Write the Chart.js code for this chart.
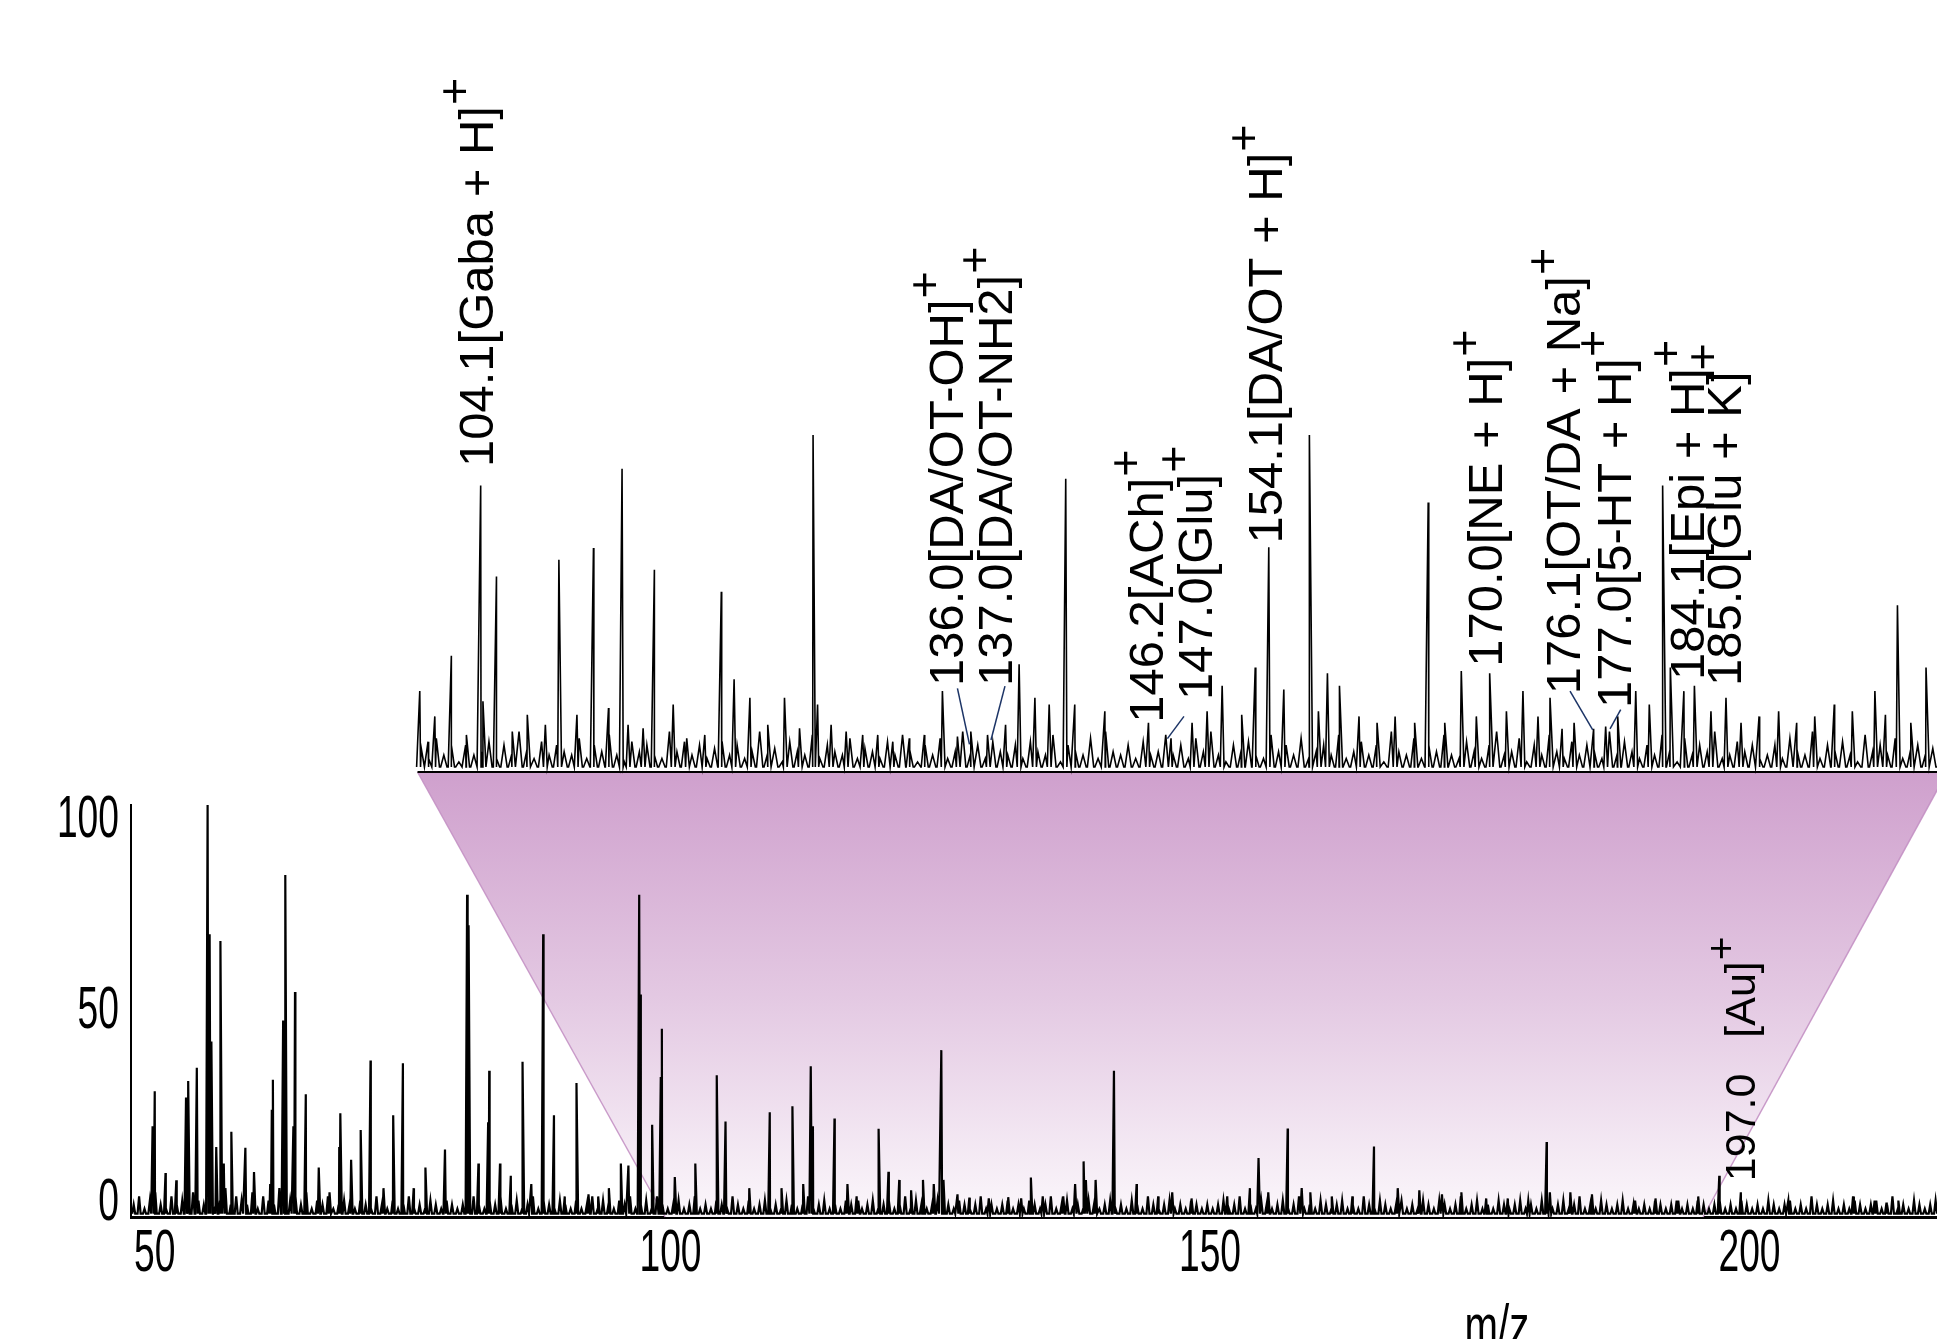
<!DOCTYPE html>
<html><head><meta charset="utf-8">
<script src="https://cdn.jsdelivr.net/npm/chart.js@4.4.1/dist/chart.umd.min.js"></script>
<style>html,body{margin:0;padding:0;background:#fff;overflow:hidden}#wrap{position:relative;width:1937px;height:1339px}</style>
</head><body><div id="wrap"><canvas id="c" width="1937" height="1339"></canvas></div>
<script>
// ---- main spectrum (m/z, relative intensity %) ----
const mainPeaks = [
[52.0,22],[52.2,30.5],[53.2,10.7],[54.2,8.9],[55.1,29],[55.3,33],[56.1,36.2],
[57.1,100],[57.3,68.6],[57.45,42.6],[57.9,17],[58.3,67],[58.6,13],[59.3,20.7],
[60.6,16.8],[61.4,10.9],[62.9,8],[63.05,26],[63.15,33.3],[64.1,47.7],[64.3,83],
[65.05,22],[65.2,54.6],[66.2,29.8],[67.4,12],[68.4,6],[69.3,17],[69.4,25.2],
[70.4,13.9],[71.3,21.1],[72.2,38],[73.4,7],[74.3,24.7],[75.2,37.3],[76.2,7],
[77.3,12],[79.1,16.4],[81.15,78.2],[81.3,70.8],[82.2,13],[83.1,23],[83.2,35.5],
[84.2,13],[85.2,10],[86.3,37.7],[87.1,8],[88.2,68.6],[89.2,24.7],[90.2,5],
[91.3,32.5],[92.4,5.5],[93.3,5],[94.3,7],[95.4,13],[96.1,12.5],[97.1,78.2],
[97.25,54],[98.3,22.4],[99.1,34],[99.2,45.7],[100.4,9.7],[102.3,13],
[104.3,34.4],[105.1,23.2],[107.3,7],[109.2,25.4],[110.3,7],[111.3,26.9],
[112.3,8],[113.0,36.6],[113.2,22],[115.2,23.9],[116.4,8],[117.4,4],[119.3,21.4],
[120.2,11],[121.2,9],[122.3,6.5],[123.4,9],[124.4,8],[125.1,40.5],[125.3,9],
[126.6,5.5],[127.7,4.7],[129.5,4.5],[131.3,4.8],[132.5,4.5],[133.4,9.6],
[134.5,5],[136.4,5],[137.5,8],[138.3,13.5],[138.5,9],[139.4,9],[141.1,35.5],
[143.2,8],[145.2,5],[146.5,6],[148.3,4.5],[151.6,5],[153.7,7],[154.5,14.3],
[155.4,6],[157.2,21.5],[158.5,7],[159.3,6],[161.3,5],[163.2,5],[165.2,17.1],
[167.4,7],[169.4,6.5],[171.5,5.5],[173.3,6],[175.6,4.5],[177.6,4.5],[179.5,4],
[181.2,18.2],[181.5,6],[183.4,6],[185.4,5.5],[189.4,4],[191.3,4.5],[193.4,4],
[195.2,4],[197.2,10],[199.2,6],[203.6,4],[209.6,5],[211.6,4],[212.7,3.5],[213.8,4]
];
// baseline "grass" of the main spectrum, read every half m/z from 50.25
const mainNoiseStart = 50.25, mainNoiseStep = 0.5;
const mainNoise = [
3,5,2,4,6,3,2,5,3,4,2,6,4,3,5,2,4,7,3,5,
4,3,6,2,5,4,3,7,2,4,5,3,6,2,4,3,5,2,3,4,
3,2,4,3,2,5,3,2,4,2,3,5,2,3,2,4,3,2,4,3,
2,3,2,5,3,2,4,3,5,2,3,4,2,3,5,2,4,3,2,4,
3,2,4,2,3,5,2,4,3,2,4,3,5,2,3,4,2,5,3,2,
3,4,2,3,5,2,3,2,4,3,2,5,3,2,4,2,3,4,2,3,
2,4,3,2,3,5,2,3,4,2,3,2,4,3,5,2,3,4,2,3,
4,2,3,5,2,4,3,2,3,4,2,3,2,4,3,2,3,5,2,3,
2,3,4,2,3,2,4,3,2,3,5,2,3,4,2,3,2,4,3,2,
3,4,2,3,2,4,3,2,5,3,2,3,4,2,3,2,4,3,2,3,
2,3,4,2,3,5,2,3,2,4,3,2,3,4,2,3,5,2,3,2,
4,3,2,3,4,2,3,2,5,3,2,4,3,2,3,4,2,3,2,4,
3,2,4,3,2,3,5,2,3,4,2,3,2,4,3,2,3,4,2,3,
2,4,3,2,3,4,2,3,5,2,3,2,4,3,2,3,4,2,3,2,
3,2,4,3,2,3,4,2,3,2,5,3,2,3,4,2,3,2,4,3,
2,3,2,4,3,2,3,4,2,3,2,5,3,2,3,4,2,3,2,4,
3,2,3,4,2,3,5,2,3,2,4,3,2,3,4,2
];
// ---- zoomed inset spectrum (inset m/z units, relative intensity %) ----
const insetPeaks = [
[100.15,24],[100.7,9],[101.15,16.5],[102.25,34.5],[103.2,8],[104.2,85],[104.35,21],
[105.25,58],[106.3,12],[107.3,17],[108.5,14],[109.4,63],[110.6,17],[111.7,66.5],
[112.7,19],[113.6,90],[114.0,14],[115.0,13],[115.75,60],[117.0,20],[117.9,10],
[119.1,11],[120.2,53.5],[121.05,27.5],[122.1,22],[123.3,14],[124.4,22],[125.4,13],
[126.3,100],[126.6,20],[127.5,14],[128.5,12],[129.6,11],[130.6,11],[131.6,9],
[132.7,10],[133.7,11],[134.9,24],[135.9,10.5],[136.8,12],[137.9,11],[139.1,14],
[140.0,32],[141.05,22],[142.0,20],[143.1,87],[143.7,20],[145.7,18],[148.6,14.6],
[150.1,10],[151.5,14.6],[152.5,18],[153.5,25.6],[154.8,17],[155.7,31],[156.6,66.7],
[157.6,24.5],[159.3,100],[159.9,18],[160.5,29.3],[161.3,25.6],[162.6,16.5],
[163.8,14.6],[165.0,16.5],[166.3,14.6],[167.2,80],[168.3,14.6],[169.4,30],
[170.4,16.5],[171.3,29.3],[172.4,18],[173.5,24],[174.5,16.5],[175.3,22],
[176.1,12.8],[176.9,14.6],[178.2,12.8],[179.0,13.5],[179.8,16.5],[181.0,24],
[181.9,20],[182.8,85],[183.3,31],[184.2,24],[184.9,25.6],[186.0,18],[187.0,22],
[188.0,14.6],[189.2,16.5],[190.5,18],[191.7,14.6],[192.9,16.5],[194.2,20],
[195.4,18],[196.9,24],[197.6,17],[198.4,49.5],[199.3,14.6],[200.3,31]
];
const insetNoiseStart = 100.25, insetNoiseStep = 0.5;
const insetNoise = [
7,4,10,5,8,3,11,5,6,9,4,8,5,12,6,4,9,5,8,6,
5,10,4,8,6,11,5,3,9,6,8,5,4,12,6,9,5,8,4,7,
9,5,8,4,6,12,5,7,3,9,6,5,11,4,8,6,5,10,4,7,
6,4,9,5,11,6,3,8,5,10,4,6,12,5,8,4,9,6,5,8,
4,9,6,5,11,3,8,6,5,10,4,12,6,5,8,4,9,5,6,11,
5,8,4,10,6,12,5,3,8,6,9,5,4,11,6,8,5,10,4,6,
8,5,11,4,6,9,5,8,3,12,6,5,10,4,8,6,11,5,4,9,
6,4,8,12,5,6,10,3,8,5,11,6,4,9,5,8,6,4,12,5,
9,6,4,8,5,11,6,3,10,5,8,6,12,4,5,9,6,8,4,5,
8,4,10,6,5,12,4,8,6,9,5,3,11,6,8,5,10,4,6,8,
5,7,4
];
const xTicks = [50, 100, 150, 200];
const yTicks = [0, 50, 100];
// peak annotations (inset units); leader = short connector line
const insetLabels = [
 {text:'104.1[Gaba + H]', mz:104.1, h:90.5},
 {text:'136.0[DA/OT-OH]', mz:135.38, h:25.5, leader:[[135.9,24.8],[136.7,8.2]]},
 {text:'137.0[DA/OT-NH2]', mz:138.66, h:25.5, leader:[[139.06,25.5],[138.13,9.5]]},
 {text:'146.2[ACh]', mz:148.7, h:14.6},
 {text:'147.0[Glu]', mz:151.9, h:21.4, leader:[[150.96,16.5],[149.86,9.9]]},
 {text:'154.1[DA/OT + H]', mz:156.59, h:67.8},
 {text:'170.0[NE + H]', mz:171.24, h:31.2},
 {text:'176.1[OT/DA + Na]', mz:176.41, h:23.1, leader:[[176.63,24.0],[178.14,12.5]]},
 {text:'177.0[5-HT + H]', mz:179.76, h:19.0, leader:[[180.0,18.5],[179.29,12.8]]},
 {text:'184.1[Epi + H]', mz:184.63, h:27.3},
 {text:'185.0[Glu + K]', mz:187.1, h:25.5}
];
const mainLabels = [ {text:'197.0   [Au]', mz:199.4, h:8.7} ];
const axisTitle = {text:'m/z', mz:176.6};
// zoom band: inset range mapped to main-spectrum range
const band = { insetFrom:100, insetTo:201.7, mainFrom:99.5, mainTo:195.7 };

function buildTrace(peaks, nStart, nStep, noise, halfW, floor) {
  const apex = peaks.map(p => ({x:p[0], y:p[1]}));
  noise.forEach((h, i) => apex.push({x: nStart + i * nStep, y: h}));
  apex.sort((a, b) => a.x - b.x);
  const pts = [];
  for (let i = 0; i < apex.length; i++) {
    const a = apex[i], b = apex[i + 1];
    if (i === 0) pts.push({x: a.x - halfW, y: floor});
    pts.push(a);
    if (!b) { pts.push({x: a.x + halfW, y: floor}); break; }
    if (b.x - a.x > 2 * halfW) { pts.push({x: a.x + halfW, y: floor}); pts.push({x: b.x - halfW, y: floor}); }
    else pts.push({x: (a.x + b.x) / 2, y: floor});
  }
  return pts;
}

const LBL = '"Liberation Sans", Arial, sans-serif';
const NARROW = { size: 60, squeeze: 0.62 };

function rotLabel(ctx, x, y, text, size) {
  ctx.save();
  ctx.translate(x, y); ctx.rotate(-Math.PI / 2);
  ctx.font = size + 'px ' + LBL;
  ctx.textAlign = 'left'; ctx.textBaseline = 'middle'; ctx.fillStyle = '#000';
  ctx.fillText(text, 0, 0);
  const w = ctx.measureText(text).width;
  ctx.font = (size * 0.95) + 'px ' + LBL;
  ctx.fillText('+', w + 1, -size * 0.45);
  ctx.restore();
}
function narrowText(ctx, text, x, y, align, squeeze) {
  ctx.save();
  ctx.translate(x, y); ctx.scale(squeeze, 1);
  ctx.font = NARROW.size + 'px ' + LBL;
  ctx.fillStyle = '#000'; ctx.textAlign = align; ctx.textBaseline = 'alphabetic';
  ctx.fillText(text, 0, 0);
  ctx.restore();
}
// condensed tick labels drawn at the library's own tick positions
function narrowDrawLabels() {
  const s = this, ctx = s.ctx;
  const capH = NARROW.size * 0.716;
  const mid = (s.top + s.bottom) / 2;
  s.ticks.forEach((t, i) => {
    const p = s.getPixelForValue(t.value);
    const lab = String(t.label);
    if (s.isHorizontal()) {
      const align = i === 0 ? 'left' : 'center';
      narrowText(ctx, lab, i === 0 ? p + 3 : p, s.top + 11 + capH, align, NARROW.squeeze);
    } else {
      const c = mid + (p - mid) * 0.93 - 4;
      narrowText(ctx, lab, s.right - 12, c + capH / 2, 'right', NARROW.squeeze);
    }
  });
}

const bandPlugin = {
  id: 'band',
  beforeDraw(chart) {
    chart.scales.x.drawLabels = narrowDrawLabels;
    chart.scales.y.drawLabels = narrowDrawLabels;
  },
  beforeDatasetsDraw(chart) {
    const {ctx, scales} = chart;
    const x = scales.x, y = scales.y, x2 = scales.x2, y2 = scales.y2;
    const tl = [x2.getPixelForValue(band.insetFrom), y2.getPixelForValue(0)];
    const tr = [x2.getPixelForValue(band.insetTo), y2.getPixelForValue(0)];
    const bl = [x.getPixelForValue(band.mainFrom), y.getPixelForValue(0)];
    const br = [x.getPixelForValue(band.mainTo), y.getPixelForValue(0)];
    ctx.save();
    const g = ctx.createLinearGradient(0, tl[1], 0, bl[1]);
    g.addColorStop(0, 'rgb(207,160,205)');
    g.addColorStop(0.5, 'rgb(227,200,226)');
    g.addColorStop(1, 'rgb(251,247,251)');
    ctx.beginPath();
    ctx.moveTo(tl[0], tl[1]); ctx.lineTo(tr[0], tr[1]); ctx.lineTo(br[0], br[1]); ctx.lineTo(bl[0], bl[1]); ctx.closePath();
    ctx.fillStyle = g; ctx.fill();
    ctx.strokeStyle = 'rgba(196,145,196,0.9)'; ctx.lineWidth = 1.5;
    ctx.beginPath(); ctx.moveTo(tl[0], tl[1]); ctx.lineTo(bl[0], bl[1]); ctx.stroke();
    ctx.beginPath(); ctx.moveTo(tr[0], tr[1]); ctx.lineTo(br[0], br[1]); ctx.stroke();
    ctx.restore();
  },
  afterDatasetsDraw(chart) {
    const {ctx, scales} = chart;
    const x = scales.x, y = scales.y, x2 = scales.x2, y2 = scales.y2;
    ctx.save();
    insetLabels.forEach(l => {
      if (l.leader) {
        ctx.strokeStyle = '#1c3466'; ctx.lineWidth = 1.5;
        ctx.beginPath();
        ctx.moveTo(x2.getPixelForValue(l.leader[0][0]), y2.getPixelForValue(l.leader[0][1]));
        ctx.lineTo(x2.getPixelForValue(l.leader[1][0]), y2.getPixelForValue(l.leader[1][1]));
        ctx.stroke();
      }
      rotLabel(ctx, x2.getPixelForValue(l.mz), y2.getPixelForValue(l.h), l.text, 49);
    });
    mainLabels.forEach(l => rotLabel(ctx, x.getPixelForValue(l.mz), y.getPixelForValue(l.h), l.text, 43));
    narrowText(ctx, axisTitle.text, x.getPixelForValue(axisTitle.mz), 1346, 'center', 0.67);
    ctx.restore();
  }
};

new Chart(document.getElementById('c'), {
  type: 'line',
  data: {
    datasets: [
      { label:'main', data: buildTrace(mainPeaks, mainNoiseStart, mainNoiseStep, mainNoise, 0.14, 0.8),
        xAxisID:'x', yAxisID:'y', borderColor:'#000', borderWidth:2.2, pointRadius:0, tension:0, fill:false },
      { label:'insetBase', data: [{x:band.insetFrom, y:0}, {x:band.insetTo, y:0}],
        xAxisID:'x2', yAxisID:'y2', borderColor:'#000', borderWidth:2, pointRadius:0, clip:false },
      { label:'inset', data: buildTrace(insetPeaks, insetNoiseStart, insetNoiseStep, insetNoise, 0.21, 1.5),
        xAxisID:'x2', yAxisID:'y2', borderColor:'#000', borderWidth:1.6, pointRadius:0, tension:0, fill:false, clip:false }
    ]
  },
  options: {
    responsive:false, animation:false, events:[],
    layout:{ padding:{ top:805, left:0, right:0, bottom:0 } },
    plugins:{ legend:{display:false}, tooltip:{enabled:false} },
    scales:{
      x:{ type:'linear', position:'bottom', min:50, max:217.38,
          grid:{display:false}, border:{display:true, color:'#000', width:3},
          ticks:{ color:'#000', font:{family:LBL, size:60}, padding:6, maxRotation:0, autoSkip:false },
          afterBuildTicks: s => { s.ticks = xTicks.map(v => ({value:v})); },
          afterFit: s => { s.height = 122; } },
      y:{ type:'linear', position:'left', min:0, max:100,
          grid:{display:false}, border:{display:true, color:'#000', width:2},
          ticks:{ color:'#000', font:{family:LBL, size:60}, padding:10 },
          afterBuildTicks: s => { s.ticks = yTicks.map(v => ({value:v})); },
          afterFit: s => { s.width = 131; } },
      x2:{ type:'linear', display:false, min:80.95, max:201.03 },
      y2:{ type:'linear', display:false, min:-132.05, max:-9.79 }
    }
  },
  plugins:[bandPlugin]
});
</script></body></html>
